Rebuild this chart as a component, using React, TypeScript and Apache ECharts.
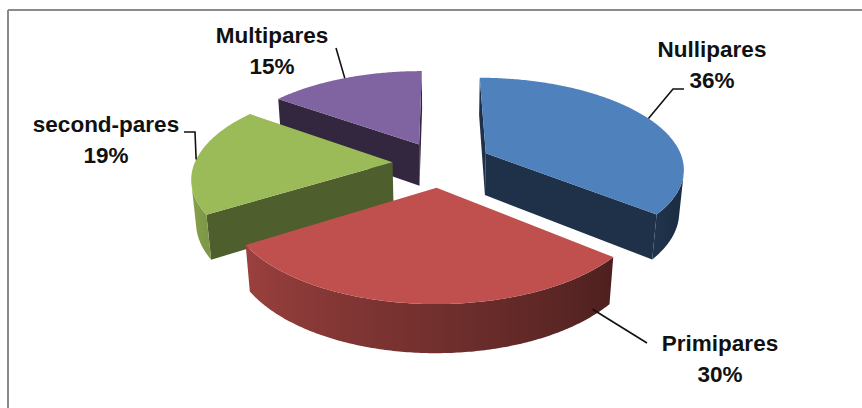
import React, { useEffect, useRef } from "react";
import * as echarts from "echarts";

// ---- data ----
const categories = ["Nullipares", "Primipares", "second-pares", "Multipares"];
const values = [36, 30, 19, 15];

// ---- style ----
const colors = ["#4F81BD", "#C0504D", "#9BBB59", "#8064A2"];
const wallShade = [0.38, 0.42, 0.5, 0.39];
const explode = [0.26, 0.265, 0.24, 0.24];

// label layout (positions only)
const labelLayout: { x: number; y: number; anchorAngle: number | null; anchorDepth: number; path: number[][] }[] = [
  { x: 712, y: 64.5, anchorAngle: null, anchorDepth: 0, path: [[673, 89], [684, 89]] },
  { x: 720, y: 358.5, anchorAngle: 137, anchorDepth: 0.85, path: [[647, 343]] },
  { x: 106, y: 140, anchorAngle: null, anchorDepth: 0, path: [[195, 132], [184, 132]] },
  { x: 272, y: 51, anchorAngle: null, anchorDepth: 0, path: [[336, 48]] },
];

// ---- projection ----
const CX = 440;
const CY = 163;
const F = 1146;
const D = 5.79;
const SB = 0.454;
const CB = 0.891;
const H = 0.245;

const rad = (d: number) => (d * Math.PI) / 180;
function project(u: number, v: number, h: number): number[] {
  const yc = v * SB + h * CB;
  const zc = v * CB - h * SB;
  const w = D + zc;
  return [CX + (F * u) / w, CY - (F * yc) / w];
}

function shade(hex: string, f: number): string {
  const n = parseInt(hex.slice(1), 16);
  const r = Math.round(((n >> 16) & 255) * f);
  const g = Math.round(((n >> 8) & 255) * f);
  const b = Math.round((n & 255) * f);
  return `rgb(${Math.min(255, r)},${Math.min(255, g)},${Math.min(255, b)})`;
}

const total = values.reduce((a, b) => a + b, 0);
const starts: number[] = [];
{
  let acc = 0;
  values.forEach((v) => {
    starts.push((acc / total) * 360);
    acc += v;
  });
}
const mids = values.map((v, i) => starts[i] + ((v / total) * 360) / 2);
const order = values
  .map((_, i) => i)
  .sort((a, b) => Math.cos(rad(mids[b])) - Math.cos(rad(mids[a])));

function outerFactor(th: number) {
  const f = 0.4 + ((th - 130) * 0.42) / 110;
  return Math.max(0.36, Math.min(0.95, f));
}

export default function App() {
  const ref = useRef<HTMLDivElement>(null);
  useEffect(() => {
    if (!ref.current) return;
    const chart = echarts.init(ref.current, undefined, { renderer: "svg" });
    const camV = -D * CB;

    const renderItem = (params: any, api: any) => {
      const i = params.dataIndex;
      const val = api.value(0);
      const a0 = starts[i];
      const a1 = a0 + (val / total) * 360;
      const mid = (a0 + a1) / 2;
      const e = explode[i];
      const ox = e * Math.sin(rad(mid));
      const oy = e * Math.cos(rad(mid));
      const P = (th: number, r: number, h: number) =>
        project(ox + r * Math.sin(rad(th)), oy + r * Math.cos(rad(th)), h);
      const base = colors[i];
      const zb = order.indexOf(i) * 10;
      const children: any[] = [];
      const vis = (nu: number, nv: number, pu: number, pv: number) =>
        nu * (0 - pu) + nv * (camV - pv) > 0;
      const poly = (pts: number[][], fill: any, z2: number) => ({
        type: "polygon",
        z2,
        shape: { points: pts },
        style: { fill, stroke: null },
      });

      // radial walls
      {
        const nu = -Math.cos(rad(a0));
        const nv = Math.sin(rad(a0));
        if (vis(nu, nv, ox, oy))
          children.push(poly([P(a0, 0, 0), P(a0, 1, 0), P(a0, 1, -H), P(a0, 0, -H)], shade(base, wallShade[i]), zb + 1));
      }
      {
        const nu = Math.cos(rad(a1));
        const nv = -Math.sin(rad(a1));
        if (vis(nu, nv, ox, oy))
          children.push(poly([P(a1, 0, 0), P(a1, 1, 0), P(a1, 1, -H), P(a1, 0, -H)], shade(base, wallShade[i]), zb + 1));
      }

      // outer wall
      const steps = Math.max(8, Math.ceil((a1 - a0) * 1.5));
      let run: number[] = [];
      const flush = () => {
        if (run.length >= 2) {
          const top = run.map((th) => P(th, 1, 0));
          const bot = run.map((th) => P(th, 1, -H)).reverse();
          const pts = top.concat(bot);
          const xs = pts.map((p) => p[0]);
          const xmin = Math.min(...xs);
          const xmax = Math.max(...xs);
          const stops = run
            .map((th, k) => ({
              offset: Math.max(0, Math.min(1, (top[k][0] - xmin) / Math.max(1, xmax - xmin))),
              color: shade(base, outerFactor(th)),
            }))
            .sort((a, b) => a.offset - b.offset);
          children.push(
            poly(pts, { type: "linear", x: 0, y: 0, x2: 1, y2: 0, colorStops: stops, global: false }, zb + 2)
          );
        }
        run = [];
      };
      for (let k = 0; k <= steps; k++) {
        const th = a0 + ((a1 - a0) * k) / steps;
        const s = Math.sin(rad(th));
        const c = Math.cos(rad(th));
        const pu = ox + s;
        const pv = oy + c;
        if (s * (0 - pu) + c * (camV - pv) > 0) run.push(th);
        else flush();
      }
      flush();

      // top
      const topPts: number[][] = [P(a0, 0, 0)];
      for (let k = 0; k <= steps; k++) topPts.push(P(a0 + ((a1 - a0) * k) / steps, 1, 0));
      children.push(poly(topPts, base, zb + 3));

      // label + leader
      const L = labelLayout[i];
      const anchor = P(L.anchorAngle == null ? mid : L.anchorAngle, 1, -L.anchorDepth * H);
      children.push({
        type: "polyline",
        z2: 100,
        shape: { points: [anchor].concat(L.path) },
        style: { stroke: "#111", lineWidth: 1.6, fill: null },
      });
      children.push({
        type: "text",
        z2: 101,
        x: L.x,
        y: L.y,
        style: {
          text: `${categories[i]}\n${Math.round((val / total) * 100)}%`,
          fill: "#111",
          fontSize: 22.5,
          fontWeight: "bold",
          fontFamily: '"Liberation Sans", Arial, sans-serif',
          align: "center",
          verticalAlign: "middle",
          lineHeight: 31,
        },
      });

      return { type: "group", children };
    };

    chart.setOption({
      animation: false,
      backgroundColor: "#ffffff",
      graphic: [
        { type: "line", shape: { x1: 8, y1: 10, x2: 862, y2: 10 }, style: { stroke: "#8a8a8a", lineWidth: 2 } },
        { type: "line", shape: { x1: 8, y1: 10, x2: 8, y2: 408 }, style: { stroke: "#8a8a8a", lineWidth: 2 } },
      ],
      series: [
        {
          type: "custom",
          coordinateSystem: "none",
          renderItem,
          data: values.map((v, i) => ({ name: categories[i], value: [v] })),
        },
      ],
    });
    return () => chart.dispose();
  }, []);
  return <div ref={ref} style={{ position: "fixed", left: 0, top: 0, width: 862, height: 408 }} />;
}
